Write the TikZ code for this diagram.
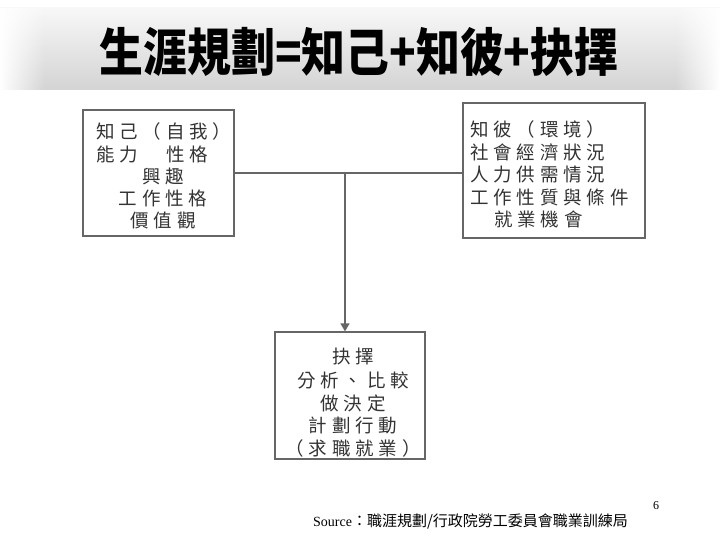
\documentclass[tikz,border=0pt]{standalone}
\usepackage{fontspec}
\setmainfont{Liberation Serif}
\newfontfamily\cjk{Noto Sans CJK TC}
\newfontfamily\cjkbox[LetterSpace=26]{Noto Sans CJK TC}
\usetikzlibrary{arrows.meta,fadings}

\tikzset{
  caixa/.style={draw=black!60, line width=1.3pt, fill=white, inner sep=0pt},
  linha/.style={inner sep=0pt, font=\cjkbox\fontsize{18.5}{18.5}\selectfont, text=black!80},
  ligacao/.style={draw=black!60, line width=1.3pt}
}

\begin{document}
\begin{tikzpicture}[x=1pt, y=-1pt, every node/.style={inner sep=0pt}]
    \useasboundingbox (0,0) rectangle (720,540);
    \fill[white] (0,0) rectangle (720,540);

    % Faixa do título
    \shade[top color=black!3, bottom color=black!17] (0,8) rectangle (720,90);
    \fill[white, path fading=east] (0,8) rectangle (45,90);
    \fill[white, path fading=west] (675,8) rectangle (720,90);
    \node[font=\cjk\bfseries\fontsize{43}{43}\selectfont] (titulo) at (359,52)
        {\scalebox{1.02}[1.2]{生涯規劃=知己+知彼+抉擇}};

    % Caixas
    \node[caixa, minimum width=151pt, minimum height=126pt] (esq) at (158.5,173) {};
    \node[caixa, minimum width=182pt, minimum height=135pt] (dir) at (554,170.5) {};
    \node[caixa, minimum width=150pt, minimum height=127pt] (fim) at (350,395.5) {};

    % Texto: conhecer-se a si próprio
    \node[linha, anchor=west] (esq1) at (96,131) {知己（自我）};
    \node[linha, anchor=west] (esq2) at (96,154) {能力　性格};
    \foreach \i/\y/\txt in {3/176/興趣, 4/198/工作性格, 5/220/價值觀}
        \node[linha] (esq\i) at (163,\y) {\txt};

    % Texto: conhecer o ambiente
    \foreach \i/\y/\txt in {1/129/知彼（環境）, 2/152/社會經濟狀況, 3/175/人力供需情況, 4/198/工作性質與條件}
        \node[linha, anchor=west] (dir\i) at (470,\y) {\txt};
    \node[linha, anchor=west] (dir5) at (494,219) {就業機會};

    % Texto: escolha
    \foreach \i/\y/\txt in {1/356/抉擇, 2/380/分析、比較, 3/403/做決定, 4/425/計劃行動, 5/448/（求職就業）}
        \node[linha] (fim\i) at (353,\y) {\txt};

    % Ligações
    \coordinate (juncao) at (345,173);
    \draw[ligacao] (esq.east) -- (dir.west |- esq.east);
    \draw[ligacao, -{Triangle[width=9pt, length=8pt]}] (juncao) -- (fim.north -| juncao);

    % Rodapé
    \node[anchor=west] (fonte) at (313,521)
        {\fontsize{14}{14}\selectfont Source{\cjk\fontsize{15}{15}\selectfont ：職涯規劃/行政院勞工委員會職業訓練局}};
    \node (pagina) at (656,506) {\fontsize{12}{12}\selectfont 6};
\end{tikzpicture}
\end{document}
